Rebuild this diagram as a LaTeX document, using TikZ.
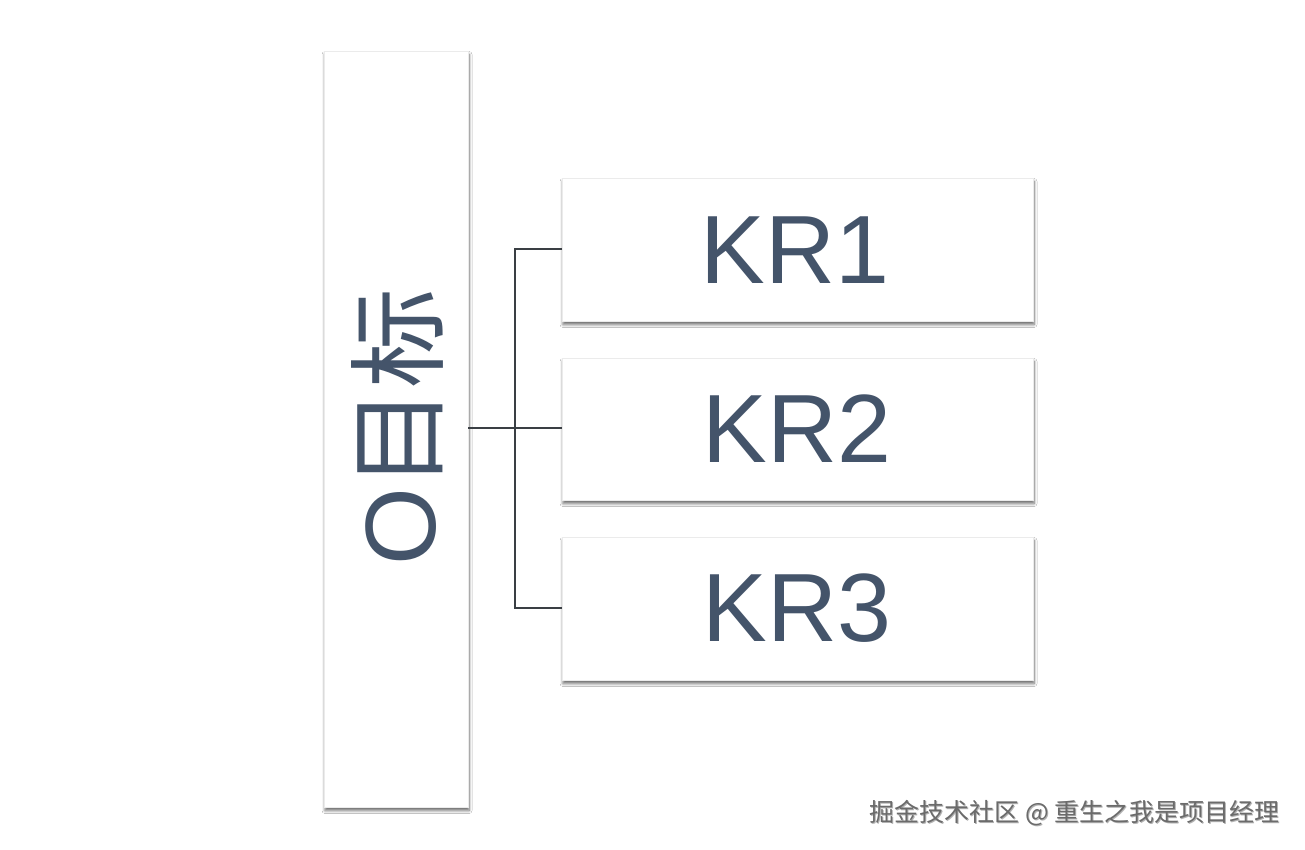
\documentclass[tikz,border=0pt]{standalone}
\usepackage{fontspec}
\setmainfont{Liberation Sans}
\newfontfamily\cjk{Noto Sans CJK SC}
\usetikzlibrary{shadows.blur}
\definecolor{slate}{HTML}{44546A}
\definecolor{linec}{HTML}{3A3F44}
\tikzset{
  card/.style={draw=black!8, fill=white, line width=0.6pt,
    blur shadow={shadow xshift=1pt, shadow yshift=-3.5pt, shadow blur radius=3pt, shadow blur steps=6, shadow opacity=60}},
  krtext/.style={text=slate, font=\fontsize{97}{97}\selectfont},
  conn/.style={draw=linec, line width=1.4pt},
  wmtext/.style={font=\cjk\fontsize{25}{25}\selectfont, inner sep=0pt, anchor=east}
}
\begin{document}
\begin{tikzpicture}[x=1pt,y=-1pt]
\path[use as bounding box, fill=white] (0,0) rectangle (1305,850);
% tall objective box
\draw[card] (324,51) rectangle (468,807);
\coordinate (O) at (468,428);
\node[rotate=90, text=slate, inner sep=0pt] (otext) at (397,427)
  {\fontsize{100}{100}\selectfont O\cjk 目标};
% KR boxes
\draw[card] (562,178) rectangle (1033,321);
\draw[card] (562,358) rectangle (1033,500);
\draw[card] (562,537) rectangle (1033,680);
\node[krtext] (kr1) at (795,250) {KR1};
\node[krtext] (kr2) at (797,429) {KR2};
\node[krtext] (kr3) at (797,608) {KR3};
\coordinate (k1) at (562,249);
\coordinate (k2) at (562,428);
\coordinate (k3) at (562,608);
\coordinate (j1) at (515,249);
\coordinate (j3) at (515,608);
% connectors
\draw[conn] (O) -- (k2);
\draw[conn] (k1) -- (j1) -- (j3) -- (k3);
% watermark
\node[wmtext, text=black!30] (wm-s) at (1281,814) {掘金技术社区 @ 重生之我是项目经理};
\node[wmtext, text=black!58] (wm) at (1280,813) {掘金技术社区 @ 重生之我是项目经理};
\end{tikzpicture}
\end{document}
